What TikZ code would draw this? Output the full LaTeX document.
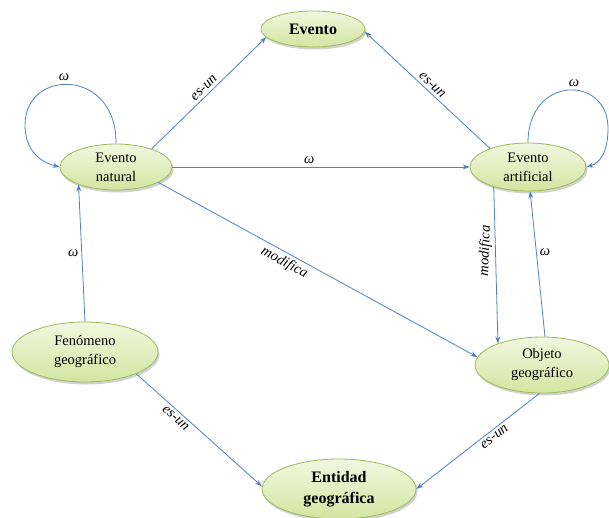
\documentclass[tikz,border=0pt]{standalone}
\usepackage{fontspec}
\setmainfont{Liberation Serif}
\usetikzlibrary{shapes.geometric,shadows,arrows.meta}
\definecolor{edgeblue}{RGB}{79,129,189}
\definecolor{nodeborder}{RGB}{155,187,89}
\definecolor{filltop}{RGB}{242,247,224}
\definecolor{fillbot}{RGB}{211,229,160}
\tikzset{
  concept/.style={ellipse, draw=nodeborder, line width=0.8pt, top color=filltop, bottom color=fillbot,
    inner sep=0pt, align=center, font=\fontsize{14.5}{19}\selectfont,
    drop shadow={shadow xshift=1.5pt, shadow yshift=-2.5pt, opacity=0.3, fill=black!60}},
  bigconcept/.style={concept, font=\fontsize{16}{21}\selectfont\bfseries},
  rel/.style={draw=edgeblue, line width=0.8pt, -{Stealth[length=7pt,width=5pt]}},
  lab/.style={font=\fontsize{14.5}{17}\selectfont\itshape, inner sep=3pt},
}
\begin{document}
\begin{tikzpicture}[x=1pt,y=-1pt]
\useasboundingbox (0,0) rectangle (609,517);
\node[bigconcept, minimum width=104pt, minimum height=36pt] (evento) at (313,29) {Evento};
\node[concept, minimum width=112pt, minimum height=46pt] (natural) at (116,167) {Evento\\natural};
\node[concept, minimum width=116pt, minimum height=48pt] (artificial) at (528,167) {Evento\\artificial};
\node[concept, minimum width=146pt, minimum height=60pt] (fenomeno) at (85,352) {Fenómeno\\geográfico};
\node[concept, minimum width=134pt, minimum height=56pt] (objeto) at (542,365) {Objeto\\geográfico};
\node[bigconcept, minimum width=154pt, minimum height=60pt] (entidad) at (339,489) {Entidad\\geográfica};

\draw[rel] (natural.27) -- node[lab, sloped, above] {es-un} (evento.190);
\draw[rel] (artificial.154) -- node[lab, sloped, above] {es-un} (evento.-3);
\draw[rel] (natural.east) -- node[lab, pos=0.46, above] {ω} (artificial.west);
\draw[rel] (natural.-20) -- node[lab, pos=0.41, sloped, below] {modifica} (objeto.173);
\draw[rel] (artificial.-150) -- node[lab, pos=0.41, rotate=88, anchor=south] {modifica} (objeto.154);
\draw[rel] (objeto.84) -- node[lab, pos=0.58, right] {ω} (artificial.-85);
\draw[rel] (fenomeno.north) -- node[lab, left] {ω} (natural.-155);
\draw[rel] (fenomeno.-23) -- node[lab, pos=0.35, sloped, below] {es-un} (entidad.178);
\draw[rel] (objeto.-95) -- node[lab, pos=0.4, sloped, below] {es-un} (entidad.east);

\draw[rel] (natural.north) .. controls (117,68) and (25,68) .. (25,125) node[lab, pos=0.55, above] {ω}
  .. controls (25,150) and (40,162) .. (natural.west);
\draw[rel] (artificial.north) .. controls (528,75) and (608,75) .. (608,128) node[lab, pos=0.55, above] {ω}
  .. controls (608,152) and (600,163) .. (artificial.east);
\end{tikzpicture}
\end{document}
